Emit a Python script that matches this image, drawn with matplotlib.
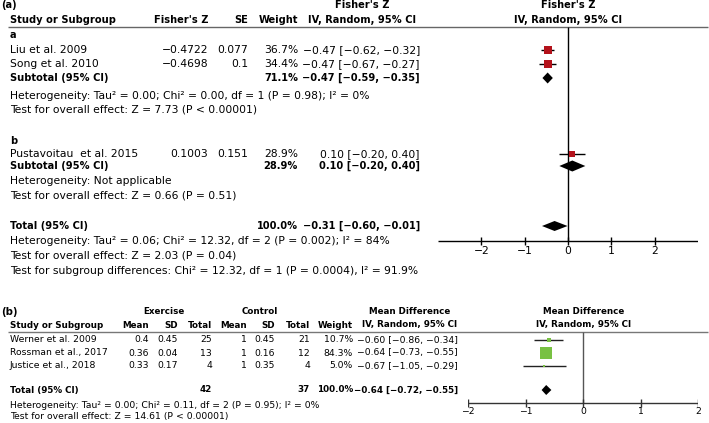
"""Two forest plots: (a) Fisher's Z by subgroup, (b) mean difference exercise vs control."""

import matplotlib

matplotlib.use("Agg")
import matplotlib.pyplot as plt
from matplotlib.patches import Polygon

W, H = 709, 423

# ---- panel (a) data ----
studies_a = ["Liu et al. 2009", "Song et al. 2010", "Pustavoitau  et al. 2015"]
fisher_z = [-0.4722, -0.4698, 0.1003]
se_a = [0.077, 0.1, 0.151]
weight_a = [36.7, 34.4, 28.9]
est_a = [-0.47, -0.47, 0.10]
lo_a = [-0.62, -0.67, -0.20]
hi_a = [-0.32, -0.27, 0.40]
sub_weight = [71.1, 28.9]
sub_est = [-0.47, 0.10]
sub_lo = [-0.59, -0.20]
sub_hi = [-0.35, 0.40]
tot_a = (100.0, -0.31, -0.60, -0.01)

# ---- panel (b) data ----
studies_b = ["Werner et al. 2009", "Rossman et al., 2017", "Justice et al., 2018"]
ex_mean = [0.4, 0.36, 0.33]
ex_sd = [0.45, 0.04, 0.17]
ex_n = [25, 13, 4]
ct_mean = [1, 1, 1]
ct_sd = [0.45, 0.16, 0.35]
ct_n = [21, 12, 4]
weight_b = [10.7, 84.3, 5.0]
md = [-0.60, -0.64, -0.67]
lo_b = [-0.86, -0.73, -1.05]
hi_b = [-0.34, -0.55, -0.29]
tot_b = (100.0, -0.64, -0.72, -0.55)
ticks = [-2, -1, 0, 1, 2]

RED = "#b3121b"
GREEN = "#78c142"
plt.rcParams["font.family"] = ["DejaVu Sans"]

# (regular, bold) font sizes per panel; DejaVu bold runs wide, so it gets a smaller size
SIZES = {"a": (7.75, 7.1), "b": (6.7, 6.3)}
panel = "a"


def m(s):
    return str(s).replace("-", "\u2212")


def ci(e, lo, hi):
    return m(f"{e:.2f} [{lo:.2f}, {hi:.2f}]")


fig = plt.figure(figsize=(W / 100, H / 100), dpi=100)
bg = fig.add_axes([0, 0, 1, 1])
bg.set_xlim(0, W)
bg.set_ylim(H, 0)
bg.axis("off")


def txt(x, y, s, ha="left", bold=False, size=None):
    reg, bld = SIZES[panel]
    bg.text(x, y, m(s), ha=ha, va="center",
            fontsize=size or (bld if bold else reg),
            fontweight="bold" if bold else "normal")


def forest_axes(x0, x1, xlim):
    ax = fig.add_axes([x0 / W, 0, (x1 - x0) / W, 1])
    ax.set_xlim(*xlim)
    ax.set_ylim(H, 0)
    ax.axis("off")
    ax.patch.set_alpha(0)
    return ax


def diamond(ax, y, lo, e, hi, h=5.5):
    ax.add_patch(Polygon([(lo, y), (e, y - h), (hi, y), (e, y + h)],
                         closed=True, color="black", lw=0))


# ================= panel (a) =================
txt(1, 5, "(a)", bold=True)
txt(362, 5, "Fisher's Z", ha="center", bold=True)
txt(568, 5, "Fisher's Z", ha="center", bold=True)
txt(10, 20, "Study or Subgroup", bold=True)
txt(208, 20, "Fisher's Z", ha="right", bold=True)
txt(248, 20, "SE", ha="right", bold=True)
txt(298, 20, "Weight", ha="right", bold=True)
txt(362, 20, "IV, Random, 95% CI", ha="center", bold=True)
txt(568, 20, "IV, Random, 95% CI", ha="center", bold=True)
bg.hlines(27, 8, 708, color="#666666", lw=1)

rows_a = [50, 64, 154]
txt(10, 35, "a", bold=True)
txt(10, 141, "b", bold=True)
for i, y in enumerate(rows_a):
    txt(10, y, studies_a[i])
    txt(208, y, f"{fisher_z[i]}", ha="right")
    txt(248, y, f"{se_a[i]}", ha="right")
    txt(298, y, f"{weight_a[i]:.1f}%", ha="right")
    txt(420, y, ci(est_a[i], lo_a[i], hi_a[i]), ha="right")

sub_rows = [78, 166]
for j, y in enumerate(sub_rows):
    txt(10, y, "Subtotal (95% CI)", bold=True)
    txt(298, y, f"{sub_weight[j]:.1f}%", ha="right", bold=True)
    txt(420, y, ci(sub_est[j], sub_lo[j], sub_hi[j]), ha="right", bold=True)

txt(10, 96, "Heterogeneity: Tau² = 0.00; Chi² = 0.00, df = 1 (P = 0.98); I² = 0%")
txt(10, 110, "Test for overall effect: Z = 7.73 (P < 0.00001)")
txt(10, 181, "Heterogeneity: Not applicable")
txt(10, 196, "Test for overall effect: Z = 0.66 (P = 0.51)")
txt(10, 226, "Total (95% CI)", bold=True)
txt(298, 226, f"{tot_a[0]:.1f}%", ha="right", bold=True)
txt(420, 226, ci(*tot_a[1:]), ha="right", bold=True)
txt(10, 241, "Heterogeneity: Tau² = 0.06; Chi² = 12.32, df = 2 (P = 0.002); I² = 84%")
txt(10, 255, "Test for overall effect: Z = 2.03 (P = 0.04)")
txt(10, 271, "Test for subgroup differences: Chi² = 12.32, df = 1 (P = 0.0004), I² = 91.9%")

axA = forest_axes(438, 698, (-3, 3))
axis_y = 241
axA.vlines(0, 27, axis_y, color="black", lw=1)
axA.hlines(axis_y, -3, 3, color="black", lw=1)
axA.vlines(ticks, axis_y - 4, axis_y + 4, color="black", lw=1)
for t in ticks:
    axA.text(t, 251, m(t), ha="center", va="center", fontsize=SIZES["a"][0])
for i, y in enumerate(rows_a):
    axA.hlines(y, lo_a[i], hi_a[i], color="black", lw=1)
    side = 7.5 * (weight_a[i] / max(weight_a)) ** 0.5
    axA.plot(est_a[i], y, "s", ms=side * 0.72, color=RED, mew=0)
for j, y in enumerate(sub_rows):
    diamond(axA, y, sub_lo[j], sub_est[j], sub_hi[j])
diamond(axA, 226, tot_a[2], tot_a[1], tot_a[3], h=5)

# ================= panel (b) =================
panel = "b"
txt(1, 312, "(b)", bold=True, size=7.3)
txt(164, 312, "Exercise", ha="center", bold=True)
txt(260, 312, "Control", ha="center", bold=True)
txt(410, 312, "Mean Difference", ha="center", bold=True)
txt(584, 312, "Mean Difference", ha="center", bold=True)
txt(10, 325, "Study or Subgroup", bold=True)
for x, lab in [(149, "Mean"), (178, "SD"), (212, "Total"), (247, "Mean"),
               (275, "SD"), (310, "Total"), (353, "Weight")]:
    txt(x, 325, lab, ha="right", bold=True)
txt(410, 325, "IV, Random, 95% CI", ha="center", bold=True)
txt(584, 325, "IV, Random, 95% CI", ha="center", bold=True)
bg.hlines(332, 8, 708, color="#777777", lw=1)

rows_b = [340, 353, 366]
for i, y in enumerate(rows_b):
    txt(10, y, studies_b[i])
    txt(149, y, f"{ex_mean[i]}", ha="right")
    txt(178, y, f"{ex_sd[i]}", ha="right")
    txt(212, y, f"{ex_n[i]}", ha="right")
    txt(247, y, f"{ct_mean[i]}", ha="right")
    txt(275, y, f"{ct_sd[i]}", ha="right")
    txt(310, y, f"{ct_n[i]}", ha="right")
    txt(353, y, f"{weight_b[i]:.1f}%", ha="right")
    txt(458, y, ci(md[i], lo_b[i], hi_b[i]), ha="right")

txt(10, 390, "Total (95% CI)", bold=True)
txt(212, 390, f"{sum(ex_n)}", ha="right", bold=True)
txt(310, 390, f"{sum(ct_n)}", ha="right", bold=True)
txt(353, 390, f"{tot_b[0]:.1f}%", ha="right", bold=True)
txt(458, 390, ci(*tot_b[1:]), ha="right", bold=True)
txt(10, 405, "Heterogeneity: Tau² = 0.00; Chi² = 0.11, df = 2 (P = 0.95); I² = 0%")
txt(10, 417, "Test for overall effect: Z = 14.61 (P < 0.00001)")

axB = forest_axes(468, 698, (-2, 2))
axis_b = 403
axB.vlines(0, 332, axis_b, color="#555555", lw=1)
axB.hlines(axis_b, -2, 2, color="#333333", lw=1)
axB.vlines(ticks, axis_b - 4, axis_b + 4, color="#333333", lw=1)
for t in ticks:
    axB.text(t, 412, m(t), ha="center", va="center", fontsize=SIZES["b"][0])
for i, y in enumerate(rows_b):
    axB.hlines(y, lo_b[i], hi_b[i], color="#222222", lw=1)
    side = 12 * (weight_b[i] / max(weight_b)) ** 0.5
    axB.plot(md[i], y, "s", ms=side * 0.72, color=GREEN, mew=0)
diamond(axB, 390, tot_b[2], tot_b[1], tot_b[3], h=5)

fig.savefig("out.png", dpi=100)
